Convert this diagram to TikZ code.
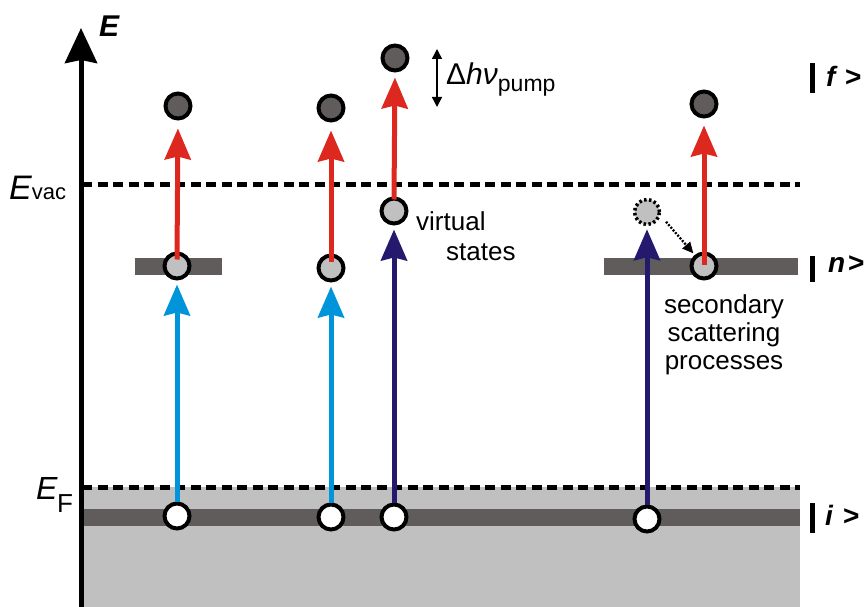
\documentclass[tikz,border=0pt]{standalone}
\usepackage{fontspec}
\setmainfont{Liberation Sans}
\usetikzlibrary{arrows.meta}
\definecolor{redc}{HTML}{DC281E}
\definecolor{lblue}{HTML}{0095DA}
\definecolor{dblue}{HTML}{231A6E}
\definecolor{bandc}{HTML}{605C5B}
\definecolor{lightg}{HTML}{C0C0C0}
\definecolor{darkg}{HTML}{605C5C}
\begin{document}
\begin{tikzpicture}[x=1pt,y=-1pt,
  el/.style={circle, draw=black, line width=4pt, minimum size=25pt, inner sep=0pt},
  elwhite/.style={el, fill=white},
  elgray/.style={el, fill=lightg},
  eldark/.style={el, fill=darkg},
  eldot/.style={circle, draw=black, line width=3.5pt, dash pattern=on 2.5pt off 2.5pt, fill=lightg, minimum size=25pt, inner sep=0pt},
  exc/.style={line width=5pt, -{Stealth[length=31pt,width=26pt,inset=3pt]}},
  redarr/.style={exc, draw=redc, fill=redc},
  bluearr/.style={exc, draw=lblue, fill=lblue},
  navyarr/.style={exc, draw=dblue, fill=dblue},
  dashline/.style={line width=5pt, dash pattern=on 10pt off 5.5pt},
  bar/.style={line width=5pt},
  txt/.style={inner sep=0pt, font=\fontsize{26}{30}\selectfont},
  lvl/.style={inner sep=0pt, anchor=base west, font=\fontsize{28}{28}\selectfont\bfseries\itshape},
]
\useasboundingbox (0,0) rectangle (868,607);

% Filled region and bands
\fill[lightg] (82,487) rectangle (800,607);
\fill[bandc] (82,509) rectangle (800,526);
\fill[bandc] (135,258) rectangle (222,275);
\fill[bandc] (604,258) rectangle (798,275);

% Dashed levels
\draw[dashline] (82,185) -- (800,185);
\draw[dashline] (82,487) -- (800,487);

% Axis
\coordinate (axb) at (81,607);
\coordinate (axt) at (81,28);
\draw[line width=5pt, -{Stealth[length=35pt,width=32pt,inset=3pt]}] (axb) -- (axt);
\node[inner sep=0pt, anchor=base west, font=\fontsize{30}{30}\selectfont\bfseries\itshape] (Elab) at (99,37) {E};

% Level labels left
\node[inner sep=0pt, anchor=base west] (Evac) at (9,200) {{\fontsize{34}{34}\selectfont\itshape E}{\fontsize{22}{22}\selectfont vac}};
\node[inner sep=0pt, anchor=base west, font=\fontsize{32}{32}\selectfont\itshape] (EF) at (36,499) {E};
\node[inner sep=0pt, anchor=base west, font=\fontsize{26}{26}\selectfont] (EFs) at (57,512) {F};

% Level labels right
\coordinate (fb1) at (812,63); \coordinate (fb2) at (812,93);
\draw[bar] (fb1) -- (fb2);
\node[lvl] (fl) at (826,87) {f};
\node[lvl, font=\fontsize{28}{28}\selectfont\bfseries] (fg) at (845,87) {>};
\coordinate (nb1) at (812,256); \coordinate (nb2) at (812,282);
\draw[bar] (nb1) -- (nb2);
\node[lvl] (nl) at (828,272) {n};
\node[lvl, font=\fontsize{28}{28}\selectfont\bfseries] (ng) at (848,272) {>};
\coordinate (ib1) at (812,503); \coordinate (ib2) at (812,533);
\draw[bar] (ib1) -- (ib2);
\node[lvl] (il) at (825,525) {i};
\node[lvl, font=\fontsize{28}{28}\selectfont\bfseries] (ig) at (843,525) {>};

% Electrons
\node[elwhite] (w1) at (177,516) {};
\node[elgray]  (g1) at (177,266) {};
\node[eldark]  (d1) at (178,106) {};
\node[elwhite] (w2) at (331,517) {};
\node[elgray]  (g2) at (331,268) {};
\node[eldark]  (d2) at (331,108) {};
\node[elwhite] (w3) at (394,517) {};
\node[elgray]  (g3) at (394,211) {};
\node[eldark]  (d3) at (395,58) {};
\node[elwhite] (w4) at (647,519) {};
\node[eldot]   (v4) at (647,212) {};
\node[elgray]  (g4) at (704,266) {};
\node[eldark]  (d4) at (704,104) {};

% Excitation arrows
\draw[bluearr] (w1.north) -- (g1.south) [shorten >=4pt];
\draw[redarr] ([yshift=-8pt]g1.north) -- (d1.south) [shorten >=8pt];
\draw[bluearr] (w2.north) -- (g2.south) [shorten >=4pt];
\draw[redarr] ([yshift=-8pt]g2.north) -- (d2.south) [shorten >=8pt];
\draw[navyarr] (w3.north) -- (g3.south) [shorten >=4pt];
\draw[redarr] ([yshift=-3pt]g3.north) -- (d3.south) [shorten >=5pt];
\draw[navyarr] (w4.north) -- (v4.south) [shorten >=3pt];
\draw[redarr] ([yshift=-13pt]g4.north) -- (d4.south) [shorten >=7pt];

% Secondary scattering (dotted)
\draw[line width=2.3pt, dash pattern=on 2pt off 1.5pt, -{Triangle[length=11pt,width=10pt]}] (v4.-15) -- (g4.130) [shorten <=8pt, shorten >=2pt];

% Delta h nu pump
\coordinate (pa) at (437,49);
\coordinate (pb) at (437,107);
\draw[line width=1.5pt, {Triangle[length=10pt,width=10pt]}-{Triangle[length=10pt,width=10pt]}] (pa) -- (pb);
\node[inner sep=0pt, anchor=base west] (pump) at (446,85) {{\fontsize{30}{30}\selectfont Δ\itshape hν}\raisebox{-7pt}{\fontsize{23}{23}\selectfont pump}};

% Texts
\node[txt, anchor=base west] (vt1) at (416,230) {virtual};
\node[txt, anchor=base west] (vt2) at (446,260) {states};
\node[txt, anchor=base] (sc1) at (724,313) {secondary};
\node[txt, anchor=base] (sc2) at (724,341) {scattering};
\node[txt, anchor=base] (sc3) at (724,369) {processes};
\end{tikzpicture}
\end{document}
